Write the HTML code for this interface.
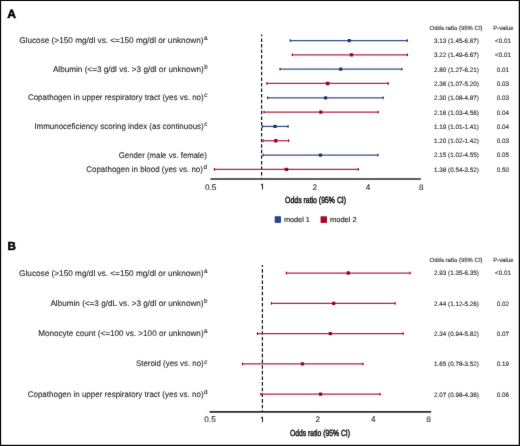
<!DOCTYPE html>
<html><head><meta charset="utf-8"><style>
html,body{margin:0;padding:0;background:#fff;}
body{width:520px;height:446px;overflow:hidden;}
svg{display:block;}
text{font-family:"Liberation Sans",sans-serif;fill:#231f20;text-rendering:geometricPrecision;}
.lb{stroke:#231f20;stroke-width:0.1px;}
.sp{stroke:#231f20;stroke-width:0.12px;}
.sm{stroke:#231f20;stroke-width:0.1px;}
.tk{stroke:#231f20;stroke-width:0.08px;}
.at{stroke:#231f20;stroke-width:0.55px;}
.lg{stroke:#231f20;stroke-width:0.15px;}
</style></head><body>
<svg width="520" height="446" viewBox="0 0 520 446">
<defs><filter id="soft" filterUnits="userSpaceOnUse" x="0" y="0" width="520" height="446" color-interpolation-filters="sRGB"><feConvolveMatrix order="3" kernelMatrix="0.0125 0.0500 0.0125 0.0500 0.7500 0.0500 0.0125 0.0500 0.0125" edgeMode="duplicate" preserveAlpha="true"/></filter></defs>
<g filter="url(#soft)">
<rect x="0" y="0" width="520" height="446" fill="#fff"/>
<rect x="0.5" y="0.5" width="519" height="445" fill="none" stroke="#000" stroke-width="1"/>
<rect x="1" y="1" width="1" height="444" fill="#000" fill-opacity="0.1"/>
<rect x="518" y="1" width="1" height="444" fill="#000" fill-opacity="0.24"/>
<rect x="1" y="444" width="518" height="1" fill="#000" fill-opacity="0.17"/>
<text x="7.2" y="17.5" font-size="12.1" font-weight="bold" stroke="#000" stroke-width="0.5" style="fill:#000">A</text>
<text x="7.5" y="249.9" font-size="11.7" font-weight="bold" stroke="#000" stroke-width="0.5" style="fill:#000">B</text>
<line x1="261.6" y1="34.4" x2="261.6" y2="179" stroke="#111" stroke-width="1.2" stroke-dasharray="3.5 2.07" stroke-dashoffset="1.57"/>
<line x1="262.4" y1="265.1" x2="262.4" y2="411.8" stroke="#111" stroke-width="1.2" stroke-dasharray="3.58 2.07" stroke-dashoffset="1.65"/>
<line x1="210.4" y1="179" x2="420.9" y2="179" stroke="#2a2a2a" stroke-width="1.7"/>
<line x1="209.6" y1="411.8" x2="431.1" y2="411.8" stroke="#2a2a2a" stroke-width="1.7"/>
<path d="M262.00,183.80 L263.00,183.80 L263.00,189.40 L262.00,189.40 Z M262.00,183.80 L260.90,184.70 L260.90,185.50 L262.00,185.00 Z" fill="#231f20"/>
<path d="M262.00,416.70 L263.00,416.70 L263.00,422.20 L262.00,422.20 Z M262.00,416.70 L260.90,417.60 L260.90,418.40 L262.00,417.90 Z" fill="#231f20"/>
<text x="210.60" y="189.5" font-size="8.2" text-anchor="middle" class="tk">0.5</text>
<text x="210.00" y="422.3" font-size="8.2" text-anchor="middle" class="tk">0.5</text>
<text x="314.90" y="189.5" font-size="8.2" text-anchor="middle" class="tk">2</text>
<text x="317.80" y="422.3" font-size="8.2" text-anchor="middle" class="tk">2</text>
<text x="368.10" y="189.5" font-size="8.2" text-anchor="middle" class="tk">4</text>
<text x="373.20" y="422.3" font-size="8.2" text-anchor="middle" class="tk">4</text>
<text x="421.30" y="189.5" font-size="8.2" text-anchor="middle" class="tk">8</text>
<text x="428.60" y="422.3" font-size="8.2" text-anchor="middle" class="tk">8</text>
<text x="285.1" y="203.1" font-size="8.9" class="at" textLength="61" lengthAdjust="spacingAndGlyphs">Odds ratio (95% CI)</text>
<text x="290" y="436.2" font-size="8.9" class="at" textLength="60" lengthAdjust="spacingAndGlyphs">Odds ratio (95% CI)</text>
<rect x="275.2" y="216.8" width="5.3" height="5.5" fill="#2b4886" stroke="#0c2868" stroke-width="0.8"/>
<text x="283.9" y="222" font-size="7.3" class="lg" textLength="26" lengthAdjust="spacingAndGlyphs">model 1</text>
<rect x="321.0" y="216.8" width="5.6" height="5.6" fill="#b3002f" stroke="#9a0020" stroke-width="0.8"/>
<text x="329.9" y="222" font-size="7.3" class="lg" textLength="26.9" lengthAdjust="spacingAndGlyphs">model 2</text>
<line x1="290.22" y1="40.55" x2="407.34" y2="40.55" stroke="#34508a" stroke-width="1.25"/>
<rect x="289.62" y="39.25" width="1.2" height="2.6" fill="#17336f"/>
<rect x="406.74" y="39.25" width="1.2" height="2.6" fill="#17336f"/>
<rect x="347.63" y="38.90" width="3.3" height="3.3" rx="0.9" fill="#17336f"/>
<text x="456.5" y="42.95" font-size="6.3" text-anchor="middle" class="sm">3.13 (1.45-6.67)</text>
<text x="503" y="42.95" font-size="6.3" text-anchor="middle" class="sm">&lt;0.01</text>
<line x1="292.31" y1="54.86" x2="407.34" y2="54.86" stroke="#b0244a" stroke-width="1.25"/>
<rect x="291.71" y="53.56" width="1.2" height="2.6" fill="#9c0019"/>
<rect x="406.74" y="53.56" width="1.2" height="2.6" fill="#9c0019"/>
<rect x="349.80" y="53.21" width="3.3" height="3.3" rx="0.45" fill="#9c0019"/>
<text x="456.5" y="57.26" font-size="6.3" text-anchor="middle" class="sm">3.22 (1.49-6.67)</text>
<text x="503" y="57.26" font-size="6.3" text-anchor="middle" class="sm">&lt;0.01</text>
<line x1="280.04" y1="69.17" x2="401.86" y2="69.17" stroke="#34508a" stroke-width="1.25"/>
<rect x="279.44" y="67.87" width="1.2" height="2.6" fill="#17336f"/>
<rect x="401.26" y="67.87" width="1.2" height="2.6" fill="#17336f"/>
<rect x="339.07" y="67.52" width="3.3" height="3.3" rx="0.9" fill="#17336f"/>
<text x="456.5" y="71.57" font-size="6.3" text-anchor="middle" class="sm">2.80 (1.27-6.21)</text>
<text x="503" y="71.57" font-size="6.3" text-anchor="middle" class="sm">0.01</text>
<line x1="266.89" y1="83.48" x2="388.24" y2="83.48" stroke="#b0244a" stroke-width="1.25"/>
<rect x="266.29" y="82.18" width="1.2" height="2.6" fill="#9c0019"/>
<rect x="387.64" y="82.18" width="1.2" height="2.6" fill="#9c0019"/>
<rect x="325.95" y="81.83" width="3.3" height="3.3" rx="0.45" fill="#9c0019"/>
<text x="456.5" y="85.88" font-size="6.3" text-anchor="middle" class="sm">2.36 (1.07-5.20)</text>
<text x="503" y="85.88" font-size="6.3" text-anchor="middle" class="sm">0.03</text>
<line x1="267.61" y1="97.79" x2="383.20" y2="97.79" stroke="#34508a" stroke-width="1.25"/>
<rect x="267.01" y="96.49" width="1.2" height="2.6" fill="#17336f"/>
<rect x="382.60" y="96.49" width="1.2" height="2.6" fill="#17336f"/>
<rect x="323.98" y="96.14" width="3.3" height="3.3" rx="0.9" fill="#17336f"/>
<text x="456.5" y="100.19" font-size="6.3" text-anchor="middle" class="sm">2.30 (1.08-4.87)</text>
<text x="503" y="100.19" font-size="6.3" text-anchor="middle" class="sm">0.03</text>
<line x1="263.97" y1="112.11" x2="378.16" y2="112.11" stroke="#b0244a" stroke-width="1.25"/>
<rect x="263.37" y="110.81" width="1.2" height="2.6" fill="#9c0019"/>
<rect x="377.56" y="110.81" width="1.2" height="2.6" fill="#9c0019"/>
<rect x="319.16" y="110.45" width="3.3" height="3.3" rx="0.45" fill="#9c0019"/>
<text x="456.5" y="114.51" font-size="6.3" text-anchor="middle" class="sm">2.16 (1.03-4.56)</text>
<text x="503" y="114.51" font-size="6.3" text-anchor="middle" class="sm">0.04</text>
<line x1="262.46" y1="126.42" x2="288.07" y2="126.42" stroke="#34508a" stroke-width="1.25"/>
<rect x="261.86" y="125.12" width="1.2" height="2.6" fill="#17336f"/>
<rect x="287.47" y="125.12" width="1.2" height="2.6" fill="#17336f"/>
<rect x="273.40" y="124.77" width="3.3" height="3.3" rx="0.9" fill="#17336f"/>
<text x="456.5" y="128.82" font-size="6.3" text-anchor="middle" class="sm">1.19 (1.01-1.41)</text>
<text x="503" y="128.82" font-size="6.3" text-anchor="middle" class="sm">0.04</text>
<line x1="263.22" y1="140.73" x2="288.61" y2="140.73" stroke="#b0244a" stroke-width="1.25"/>
<rect x="262.62" y="139.43" width="1.2" height="2.6" fill="#9c0019"/>
<rect x="288.01" y="139.43" width="1.2" height="2.6" fill="#9c0019"/>
<rect x="274.04" y="139.08" width="3.3" height="3.3" rx="0.45" fill="#9c0019"/>
<text x="456.5" y="143.13" font-size="6.3" text-anchor="middle" class="sm">1.20 (1.02-1.42)</text>
<text x="503" y="143.13" font-size="6.3" text-anchor="middle" class="sm">0.03</text>
<line x1="263.22" y1="155.04" x2="377.99" y2="155.04" stroke="#34508a" stroke-width="1.25"/>
<rect x="262.62" y="153.74" width="1.2" height="2.6" fill="#17336f"/>
<rect x="377.39" y="153.74" width="1.2" height="2.6" fill="#17336f"/>
<rect x="318.80" y="153.39" width="3.3" height="3.3" rx="0.9" fill="#17336f"/>
<text x="456.5" y="157.44" font-size="6.3" text-anchor="middle" class="sm">2.15 (1.02-4.55)</text>
<text x="503" y="157.44" font-size="6.3" text-anchor="middle" class="sm">0.05</text>
<line x1="214.41" y1="169.35" x2="358.29" y2="169.35" stroke="#b0244a" stroke-width="1.25"/>
<rect x="213.81" y="168.05" width="1.2" height="2.6" fill="#9c0019"/>
<rect x="357.69" y="168.05" width="1.2" height="2.6" fill="#9c0019"/>
<rect x="284.77" y="167.70" width="3.3" height="3.3" rx="0.45" fill="#9c0019"/>
<text x="456.5" y="171.75" font-size="6.3" text-anchor="middle" class="sm">1.38 (0.54-3.52)</text>
<text x="503" y="171.75" font-size="6.3" text-anchor="middle" class="sm">0.50</text>
<text x="456.1" y="29.6" font-size="6" text-anchor="middle" class="sm">Odds ratio (95% CI)</text>
<text x="503.4" y="29.6" font-size="6" text-anchor="middle" class="sm">P-value</text>
<line x1="286.39" y1="273.00" x2="410.14" y2="273.00" stroke="#b0244a" stroke-width="1.25"/>
<rect x="285.79" y="271.70" width="1.2" height="2.6" fill="#9c0019"/>
<rect x="409.54" y="271.70" width="1.2" height="2.6" fill="#9c0019"/>
<rect x="346.67" y="271.35" width="3.3" height="3.3" rx="0.45" fill="#9c0019"/>
<text x="456.5" y="275.40" font-size="6.3" text-anchor="middle" class="sm">2.93 (1.35-6.35)</text>
<text x="503" y="275.40" font-size="6.3" text-anchor="middle" class="sm">&lt;0.01</text>
<line x1="271.46" y1="303.30" x2="395.09" y2="303.30" stroke="#b0244a" stroke-width="1.25"/>
<rect x="270.86" y="302.00" width="1.2" height="2.6" fill="#9c0019"/>
<rect x="394.49" y="302.00" width="1.2" height="2.6" fill="#9c0019"/>
<rect x="332.04" y="301.65" width="3.3" height="3.3" rx="0.45" fill="#9c0019"/>
<text x="456.5" y="305.70" font-size="6.3" text-anchor="middle" class="sm">2.44 (1.12-5.26)</text>
<text x="503" y="305.70" font-size="6.3" text-anchor="middle" class="sm">0.02</text>
<line x1="257.45" y1="333.60" x2="403.17" y2="333.60" stroke="#b0244a" stroke-width="1.25"/>
<rect x="256.85" y="332.30" width="1.2" height="2.6" fill="#9c0019"/>
<rect x="402.57" y="332.30" width="1.2" height="2.6" fill="#9c0019"/>
<rect x="328.70" y="331.95" width="3.3" height="3.3" rx="0.45" fill="#9c0019"/>
<text x="456.5" y="336.00" font-size="6.3" text-anchor="middle" class="sm">2.34 (0.94-5.82)</text>
<text x="503" y="336.00" font-size="6.3" text-anchor="middle" class="sm">0.07</text>
<line x1="242.54" y1="363.90" x2="362.98" y2="363.90" stroke="#b0244a" stroke-width="1.25"/>
<rect x="241.94" y="362.60" width="1.2" height="2.6" fill="#9c0019"/>
<rect x="362.38" y="362.60" width="1.2" height="2.6" fill="#9c0019"/>
<rect x="300.77" y="362.25" width="3.3" height="3.3" rx="0.45" fill="#9c0019"/>
<text x="456.5" y="366.30" font-size="6.3" text-anchor="middle" class="sm">1.65 (0.78-3.52)</text>
<text x="503" y="366.30" font-size="6.3" text-anchor="middle" class="sm">0.19</text>
<line x1="260.79" y1="394.20" x2="380.09" y2="394.20" stroke="#b0244a" stroke-width="1.25"/>
<rect x="260.19" y="392.90" width="1.2" height="2.6" fill="#9c0019"/>
<rect x="379.49" y="392.90" width="1.2" height="2.6" fill="#9c0019"/>
<rect x="318.90" y="392.55" width="3.3" height="3.3" rx="0.45" fill="#9c0019"/>
<text x="456.5" y="396.60" font-size="6.3" text-anchor="middle" class="sm">2.07 (0.98-4.36)</text>
<text x="503" y="396.60" font-size="6.3" text-anchor="middle" class="sm">0.06</text>
<text x="456.1" y="261.9" font-size="6" text-anchor="middle" class="sm">Odds ratio (95% CI)</text>
<text x="503.4" y="262.0" font-size="6" text-anchor="middle" class="sm">P-value</text>
<text x="19.20" y="43.05" font-size="8.2" class="lb" textLength="184.30" lengthAdjust="spacingAndGlyphs">Glucose (&gt;150 mg/dl vs. &lt;=150 mg/dl or unknown)</text>
<text x="204.00" y="40.15" font-size="6.3" class="sp">a</text>
<text x="52.90" y="71.67" font-size="8.2" class="lb" textLength="150.90" lengthAdjust="spacingAndGlyphs">Albumin (&lt;=3 g/dl vs. &gt;3 g/dl or unknown)</text>
<text x="204.30" y="68.77" font-size="6.3" class="sp">b</text>
<text x="27.90" y="100.29" font-size="8.2" class="lb" textLength="175.80" lengthAdjust="spacingAndGlyphs">Copathogen in upper respiratory tract (yes vs. no)</text>
<text x="204.20" y="97.39" font-size="6.3" class="sp">c</text>
<text x="34.40" y="128.92" font-size="8.2" class="lb" textLength="169.30" lengthAdjust="spacingAndGlyphs">Immunoceficiency scoring index (as continuous)</text>
<text x="204.20" y="126.02" font-size="6.3" class="sp">c</text>
<text x="118.75" y="157.54" font-size="8.2" class="lb" textLength="88.05" lengthAdjust="spacingAndGlyphs">Gender (male vs. female)</text>
<text x="86.30" y="171.85" font-size="8.2" class="lb" textLength="116.60" lengthAdjust="spacingAndGlyphs">Copathogen in blood (yes vs. no)</text>
<text x="203.40" y="168.95" font-size="6.3" class="sp">d</text>
<text x="19.10" y="275.50" font-size="8.2" class="lb" textLength="184.50" lengthAdjust="spacingAndGlyphs">Glucose (&gt;150 mg/dl vs. &lt;=150 mg/dl or unknown)</text>
<text x="204.10" y="272.60" font-size="6.3" class="sp">a</text>
<text x="50.40" y="305.80" font-size="8.2" class="lb" textLength="153.20" lengthAdjust="spacingAndGlyphs">Albumin (&lt;=3 g/dL vs. &gt;3 g/dl or unknown)</text>
<text x="204.10" y="302.90" font-size="6.3" class="sp">b</text>
<text x="38.20" y="336.10" font-size="8.2" class="lb" textLength="165.40" lengthAdjust="spacingAndGlyphs">Monocyte count (&lt;=100 vs. &gt;100 or unknown)</text>
<text x="204.10" y="333.20" font-size="6.3" class="sp">a</text>
<text x="136.00" y="366.40" font-size="8.2" class="lb" textLength="67.70" lengthAdjust="spacingAndGlyphs">Steroid (yes vs. no)</text>
<text x="204.20" y="363.50" font-size="6.3" class="sp">c</text>
<text x="27.70" y="396.70" font-size="8.2" class="lb" textLength="175.90" lengthAdjust="spacingAndGlyphs">Copathogen in upper respiratory tract (yes vs. no)</text>
<text x="204.10" y="393.80" font-size="6.3" class="sp">d</text>
</g>
</svg>
</body></html>
